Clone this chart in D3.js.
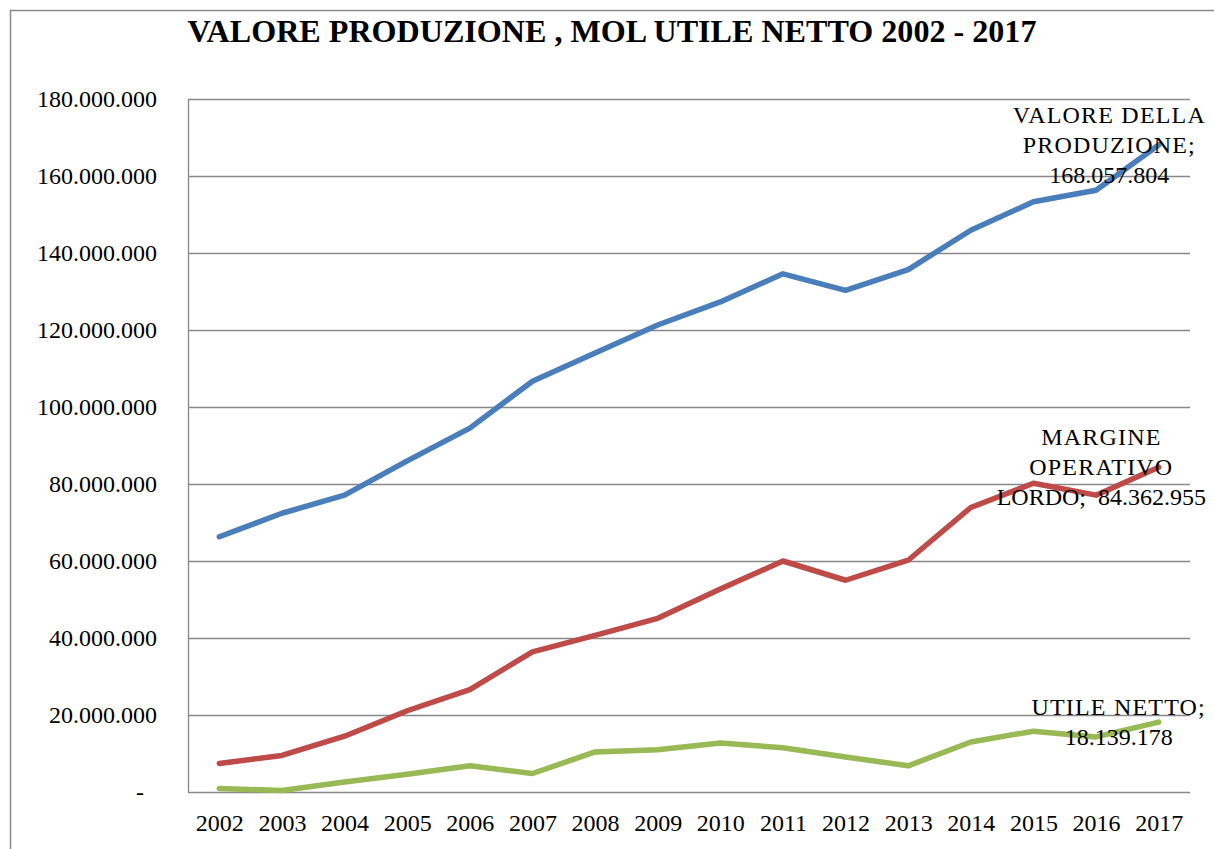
<!DOCTYPE html>
<html>
<head>
<meta charset="utf-8">
<script src="https://cdn.jsdelivr.net/npm/d3@7"></script>
<style>
  html, body { margin: 0; padding: 0; background: #fff; }
  svg { display: block; }
  text { font-family: "Liberation Serif", "Times New Roman", serif; fill: #000; }
</style>
</head>
<body>
<svg id="chart" width="1214" height="849"></svg>
<script>
// ---- data ----
const years = ["2002","2003","2004","2005","2006","2007","2008","2009","2010","2011","2012","2013","2014","2015","2016","2017"];
const valoreProduzione = [66300000, 72400000, 77100000, 86000000, 94500000, 106700000, 114000000, 121300000, 127300000, 134600000, 130300000, 135700000, 145900000, 153300000, 156300000, 168057804];
const margineOperativo = [7400000, 9500000, 14500000, 21100000, 26600000, 36400000, 40700000, 45100000, 52700000, 60000000, 55000000, 60200000, 73900000, 80200000, 77100000, 84362955];
const utileNetto = [900000, 400000, 2600000, 4600000, 6800000, 4800000, 10400000, 11000000, 12700000, 11500000, 9100000, 6800000, 13000000, 15800000, 14300000, 18139178];
const yTicks = [0, 20000000, 40000000, 60000000, 80000000, 100000000, 120000000, 140000000, 160000000, 180000000];
const seriesNames = ["VALORE DELLA PRODUZIONE", "MARGINE OPERATIVO LORDO", "UTILE NETTO"];
const labelLines = [["VALORE DELLA", "PRODUZIONE;"], ["MARGINE", "OPERATIVO", "LORDO; "], ["UTILE NETTO;"]];
const titleText = "VALORE PRODUZIONE , MOL UTILE NETTO 2002 - 2017";

const colors = ["#4A7EBB", "#BE4B48", "#98B954"];
const seriesData = [valoreProduzione, margineOperativo, utileNetto];

// ---- layout ----
const svg = d3.select("#chart");
const W = 1214, H = 849;
const plot = { left: 188, right: 1190, top: 99, bottom: 792 };

const it = d3.formatLocale({ decimal: ",", thousands: ".", grouping: [3], currency: ["", ""] });
const fmt = it.format(",.0f");

const x = d3.scalePoint().domain(years).range([plot.left, plot.right]).padding(0.5);
const y = d3.scaleLinear().domain([0, 180000000]).range([plot.bottom, plot.top]);

// outer frame (top and left edges)
svg.append("path")
  .attr("d", `M10.5,${H} L10.5,10.5 L${W},10.5`)
  .attr("fill", "none").attr("stroke", "#888").attr("stroke-width", 1.5);

// title
const title = svg.append("text")
  .attr("x", 612).attr("y", 42)
  .attr("text-anchor", "middle")
  .attr("font-weight", "bold")
  .attr("font-size", 28)
  .text(titleText);
const tw = title.node().getComputedTextLength();
title.attr("font-size", 28 * 849 / tw);

// gridlines
svg.append("g").selectAll("line").data(yTicks).join("line")
  .attr("x1", plot.left).attr("x2", plot.right)
  .attr("y1", d => Math.round(y(d)) + 0.5).attr("y2", d => Math.round(y(d)) + 0.5)
  .attr("stroke", "#888").attr("stroke-width", 1.3);

// y axis
const yAxis = svg.append("g")
  .attr("transform", `translate(${plot.left},0)`)
  .call(d3.axisLeft(y).tickValues(yTicks).tickSize(0).tickPadding(31)
    .tickFormat(d => d === 0 ? "-" : fmt(d)));
yAxis.select(".domain").attr("stroke", "#888").attr("stroke-width", 1.3);
yAxis.selectAll("text")
  .attr("font-size", 24)
  .attr("font-family", "Liberation Serif, serif")
  .attr("fill", "#000")
  .attr("dx", d => d === 0 ? -13 : 0);

// x axis
const xAxis = svg.append("g")
  .attr("transform", `translate(0,${plot.bottom})`)
  .call(d3.axisBottom(x).tickSize(0).tickPadding(22));
xAxis.select(".domain").remove();
xAxis.selectAll("text")
  .attr("font-size", 24)
  .attr("font-family", "Liberation Serif, serif")
  .attr("fill", "#000");

// lines
const line = d3.line().x((d, i) => x(years[i])).y(d => y(d));
svg.append("g").selectAll("path").data(seriesData).join("path")
  .attr("d", d => line(d))
  .attr("fill", "none")
  .attr("stroke", (d, i) => colors[i])
  .attr("stroke-width", 5.5)
  .attr("stroke-linejoin", "round")
  .attr("stroke-linecap", "round");

// data labels at last point
const labelsG = svg.append("g");
seriesData.forEach((vals, si) => {
  const last = vals.length - 1;
  const px = x(years[last]);
  const py = y(vals[last]);
  const lines = labelLines[si].slice();
  const valStr = fmt(vals[last]);
  if (si === 1) {
    lines[lines.length - 1] = lines[lines.length - 1] + " " + valStr;
  } else {
    lines.push(valStr);
  }
  const n = lines.length;
  const t = labelsG.append("text")
    .attr("font-size", 24)
    .attr("text-anchor", "middle")
    .style("white-space", "pre");
  const tspans = lines.map((ln, i) => t.append("tspan")
    .attr("y", py + (i - (n - 1) / 2) * 30 + 8)
    .attr("letter-spacing", /[A-Z]/.test(ln) && !/\d/.test(ln) ? 1.2 : 0)
    .text(ln));
  let maxW = 0;
  tspans.forEach(ts => { maxW = Math.max(maxW, ts.node().getComputedTextLength()); });
  const cx = Math.min(px + 10, 1206 - maxW / 2);
  tspans.forEach(ts => ts.attr("x", cx));
});
</script>
</body>
</html>
